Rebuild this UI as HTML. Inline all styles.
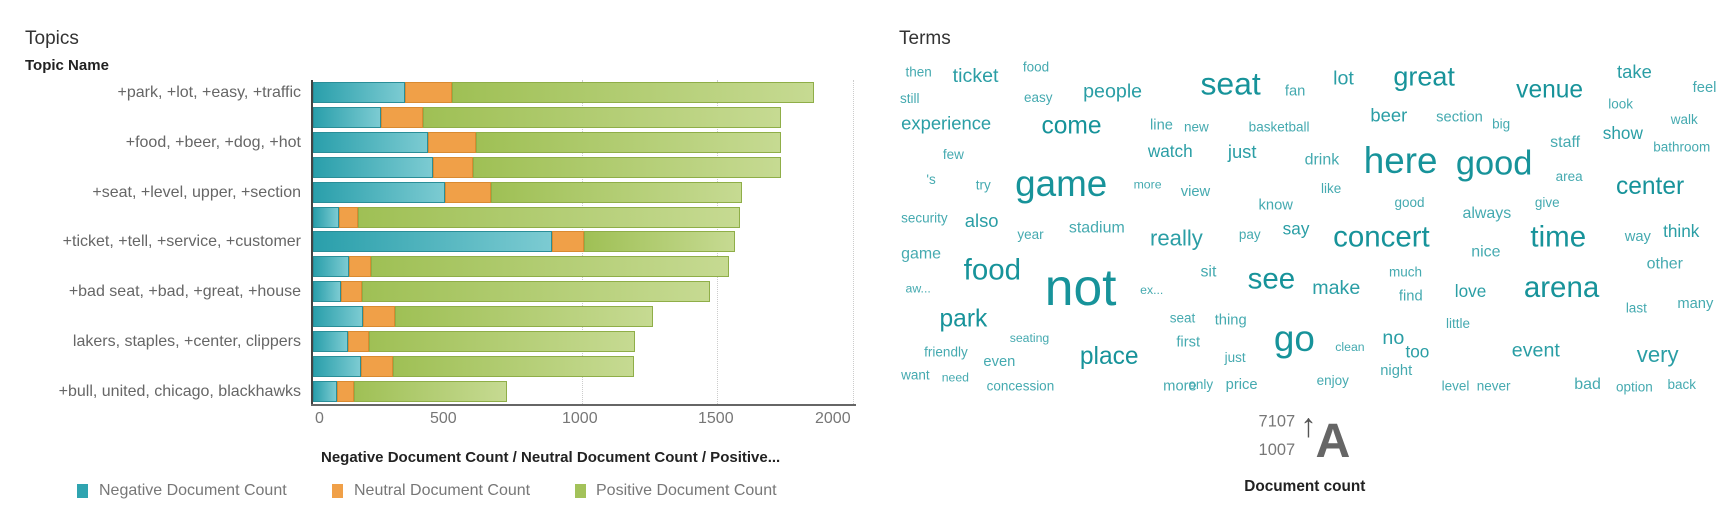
<!DOCTYPE html>
<html><head><meta charset="utf-8"><style>
body{margin:0;width:1719px;height:523px;background:#fff;font-family:"Liberation Sans",sans-serif;overflow:hidden;position:relative}
.a{position:absolute;white-space:nowrap}
.lbl{position:absolute;right:1418px;font-size:16px;color:#666;transform:translateY(-50%)}
.bar{position:absolute;height:21px;z-index:2}
.n{background:linear-gradient(90deg,#2a9fab,#7ccbd2);border:1px solid #2a8e98;box-sizing:border-box}
.u{background:#f0a048;border:1px solid #d98a30;box-sizing:border-box}
.p{background:linear-gradient(90deg,#9fc055,#c6da92);border:1px solid #8fae48;box-sizing:border-box}
#cloud{position:absolute;left:0;top:0;width:1568px;height:477px;transform-origin:0 0;transform:scale(1.0963)}
#cloud span{position:absolute;white-space:nowrap;line-height:1;color:#1f9aa1}
</style></head><body>
<div class="a" style="left:25px;top:28px;font-size:19px;color:#333">Topics</div>
<div class="a" style="left:25px;top:57px;font-size:15px;font-weight:bold;color:#222">Topic Name</div>
<div class="a" style="left:899px;top:28px;font-size:19px;color:#333">Terms</div>

<div class="a" style="left:582px;top:80px;height:324px;border-left:1px dotted #ccc"></div>
<div class="a" style="left:717px;top:80px;height:324px;border-left:1px dotted #ccc"></div>
<div class="a" style="left:853px;top:80px;height:324px;border-left:1px dotted #ccc"></div>
<div id="bars"></div>
<div class="a" style="left:311px;top:80px;width:2px;height:326px;background:#444;z-index:3"></div>
<div class="a" style="left:311px;top:404px;width:545px;height:2px;background:#666;z-index:3"></div>
<div class="a" style="left:315px;top:410px;font-size:16px;color:#777">0</div>
<div class="a" style="left:430px;top:410px;font-size:16px;color:#777">500</div>
<div class="a" style="left:562px;top:410px;font-size:16px;color:#777">1000</div>
<div class="a" style="left:698px;top:410px;font-size:16px;color:#777">1500</div>
<div class="a" style="left:815px;top:410px;font-size:16px;color:#777">2000</div>
<div class="a" style="left:321px;top:449px;font-size:15px;font-weight:bold;color:#222">Negative Document Count / Neutral Document Count / Positive...</div>
<div class="a" style="left:77px;top:484px;width:11px;height:14px;background:#2fa4b0"></div>
<div class="a" style="left:99px;top:482px;font-size:16px;color:#777">Negative Document Count</div>
<div class="a" style="left:332px;top:484px;width:11px;height:14px;background:#f0a048"></div>
<div class="a" style="left:354px;top:482px;font-size:16px;color:#777">Neutral Document Count</div>
<div class="a" style="left:575px;top:484px;width:11px;height:14px;background:#a3c25a"></div>
<div class="a" style="left:596px;top:482px;font-size:16px;color:#777">Positive Document Count</div>

<div id="cloud"></div>
<script>
var d=[[404.6,452,813.7],[380.9,423.4,780.6],[428.3,475.7,780.6],[432.7,473,780.6],[445.4,490.6,742],[338.5,358.3,739.8],[552.4,584.3,735.4],[349,371,728.8],[341.2,362.2,710],[363.3,395.3,652.7],[348.4,369.3,635.1],[361.1,393.1,634.5],[337.4,353.9,506.6]];
var L=["+park, +lot, +easy, +traffic","+food, +beer, +dog, +hot","+seat, +level, upper, +section","+ticket, +tell, +service, +customer","+bad seat, +bad, +great, +house","lakers, staples, +center, clippers","+bull, united, chicago, blackhawks"];
var h="";
d.forEach(function(r,i){var t=82+i*24.9;
h+='<div class="bar n" style="left:313px;top:'+t+'px;width:'+(r[0]-313)+'px"></div>';
h+='<div class="bar u" style="left:'+r[0]+'px;top:'+t+'px;width:'+(r[1]-r[0])+'px"></div>';
h+='<div class="bar p" style="left:'+r[1]+'px;top:'+t+'px;width:'+(r[2]-r[1])+'px"></div>';
if(i%2==0)h+='<div class="lbl" style="top:'+(t+11)+'px">'+L[i/2]+'</div>';});
document.getElementById('bars').innerHTML=h;
var w=[["then",826,67,11],["ticket",869,71,16],["food",933,62,11],["still",821,91,11],["easy",934,90,11],["people",988,85,16],["seat",1095,79,26],["fan",1172,83,12],["lot",1216,73,16],["great",1271,73,22],["venue",1383,83,20],["take",1475,67,15],["feel",1544,80,12],["look",1467,96,11],["experience",822,114,15],["come",950,116,20],["line",1049,114,12],["new",1080,117,11],["basketball",1139,117,11],["beer",1250,107,15],["section",1310,107,12],["big",1361,114,11],["walk",1524,110,11],["staff",1414,131,13],["show",1462,124,14],["bathroom",1508,135,11],["few",860,142,11],["watch",1047,140,14],["just",1120,140,15],["drink",1190,147,13],["here",1244,150,30],["good",1328,150,28],["area",1419,162,11],["center",1474,171,20],["'s",845,165,11],["try",890,170,11],["game",926,171,30],["more",1034,170,10],["view",1077,175,12],["like",1205,173,11],["know",1148,187,12],["good",1272,186,11],["always",1334,196,13],["give",1400,186,11],["security",822,200,11],["also",880,203,15],["year",928,215,11],["stadium",975,209,13],["really",1049,219,18],["pay",1130,215,11],["say",1170,211,14],["concert",1216,218,24],["time",1396,218,24],["way",1482,216,12],["think",1517,213,14],["game",822,233,13],["nice",1342,231,13],["other",1502,242,13],["food",879,248,24],["not",953,264,42],["sit",1095,249,13],["see",1138,256,24],["much",1267,249,11],["aw...",826,265,10],["ex...",1040,266,10],["make",1197,264,16],["find",1276,270,12],["love",1327,268,14],["arena",1390,264,24],["last",1483,282,11],["many",1530,277,12],["park",857,292,20],["seat",1067,291,11],["thing",1108,292,12],["little",1319,296,11],["seating",921,310,10],["first",1073,312,12],["go",1162,312,30],["clean",1218,318,10],["no",1261,310,16],["friendly",843,322,11],["even",897,330,12],["place",985,326,20],["just",1117,327,11],["too",1282,323,14],["event",1379,321,16],["very",1493,325,18],["want",822,343,11],["need",859,346,10],["concession",900,353,11],["more",1061,352,12],["only",1084,352,11],["price",1118,351,12],["enjoy",1201,348,11],["night",1259,338,12],["level",1315,353,11],["never",1347,353,11],["bad",1436,352,13],["option",1474,354,11],["back",1521,352,11]];
h="";
w.forEach(function(r){var c=r[3]>=20?"#17939a":(r[3]>=14?"#2a9ea5":"#45aab0");
h+='<span style="left:'+r[1]+'px;top:'+(r[2]-r[3]*0.62)+'px;font-size:'+(r[3]*1.12)+'px;color:'+c+'">'+r[0]+'</span>';});
h+='<span style="left:1148px;top:377px;font-size:15px;color:#777">7107</span>';
h+='<span style="left:1148px;top:403px;font-size:15px;color:#777">1007</span>';
h+='<span style="left:1200px;top:381px;font-size:44px;font-weight:bold;color:#666">A</span>';
h+='<span style="left:1186px;top:374px;font-size:30px;font-weight:bold;color:#555">&#8593;</span>';
h+='<span style="left:1135px;top:436px;font-size:14px;font-weight:bold;color:#222">Document count</span>';
document.getElementById('cloud').innerHTML=h;
</script>
</body></html>
